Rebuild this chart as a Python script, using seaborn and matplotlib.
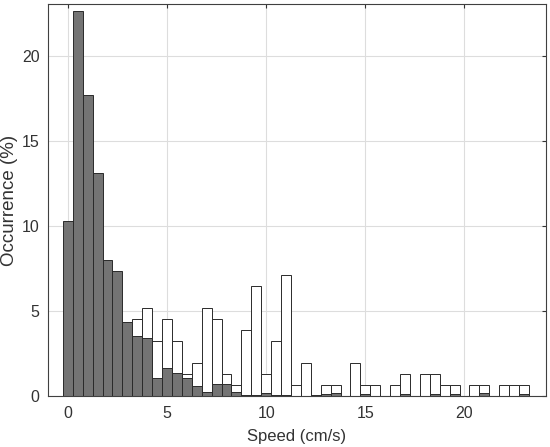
import matplotlib
matplotlib.use("Agg")
import numpy as np
import pandas as pd
from matplotlib import pyplot as plt
import seaborn as sns

# bin centres (cm/s), bin width 0.5
speed = np.arange(0, 23.01, 0.5)

# gray histogram (front)
occ_gray = [10.28, 22.64, 17.71, 13.08, 7.98, 7.33, 4.32, 3.52, 3.43, 1.07,
            1.62, 1.33, 1.07, 0.59, 0.23, 0.70, 0.70, 0.23, 0.06, 0.06,
            0.20, 0.06, 0.06, 0.03, 0.03, 0.06, 0.10, 0.15, 0.00, 0.03,
            0.10, 0.03, 0.00, 0.03, 0.10, 0.00, 0.03, 0.10, 0.03, 0.10,
            0.00, 0.03, 0.15, 0.00, 0.03, 0.03, 0.10]

# white histogram (behind)
occ_white = [0.00, 0.65, 1.29, 1.94, 2.58, 3.23, 3.87, 4.52, 5.16, 3.23,
             4.52, 3.23, 1.29, 1.94, 5.16, 4.52, 1.29, 0.65, 3.87, 6.45,
             1.29, 3.23, 7.10, 0.65, 1.94, 0.00, 0.65, 0.65, 0.00, 1.94,
             0.65, 0.65, 0.00, 0.65, 1.29, 0.00, 1.29, 1.29, 0.65, 0.65,
             0.00, 0.65, 0.65, 0.00, 0.65, 0.65, 0.65]

df = pd.DataFrame({"speed": speed, "gray": occ_gray, "white": occ_white})

sns.set_style("white")
plt.rcParams['font.family'] = ['Liberation Sans', 'DejaVu Sans']

fig = plt.figure(figsize=(5.5, 4.47), dpi=100)
ax = fig.add_axes([0.0873, 0.114, 0.905, 0.876])

sns.histplot(data=df, x="speed", weights="white", binwidth=0.5,
             binrange=(-0.25, 23.25), stat="count", color="white",
             edgecolor="#2a2a2a", linewidth=0.7, alpha=1, ax=ax)
sns.histplot(data=df, x="speed", weights="gray", binwidth=0.5,
             binrange=(-0.25, 23.25), stat="count", color="#747474",
             edgecolor="#2a2a2a", linewidth=0.7, alpha=1, ax=ax)

ax.set_xlim(-1.0, 24.1)
ax.set_ylim(0, 23)
ax.set_xticks([0, 5, 10, 15, 20])
ax.set_yticks([0, 5, 10, 15, 20])
ax.grid(True, color="#dddddd", linewidth=0.8)
ax.set_axisbelow(True)
ax.tick_params(direction="in", length=3, width=0.8, top=True, right=True,
               labelsize=11.5, colors="#333333")
ax.tick_params(axis="x", pad=7)
ax.tick_params(axis="y", pad=6)
for s in ax.spines.values():
    s.set_color("#404040")
    s.set_linewidth(0.8)
ax.set_xlabel("Speed (cm/s)", fontsize=12, color="#333333")
ax.set_ylabel("Occurrence (%)", fontsize=13.5, color="#333333")
ax.yaxis.set_label_coords(-0.061, 0.5)
ax.xaxis.set_label_coords(0.5, -0.085)

fig.savefig("out.png", dpi=100)
